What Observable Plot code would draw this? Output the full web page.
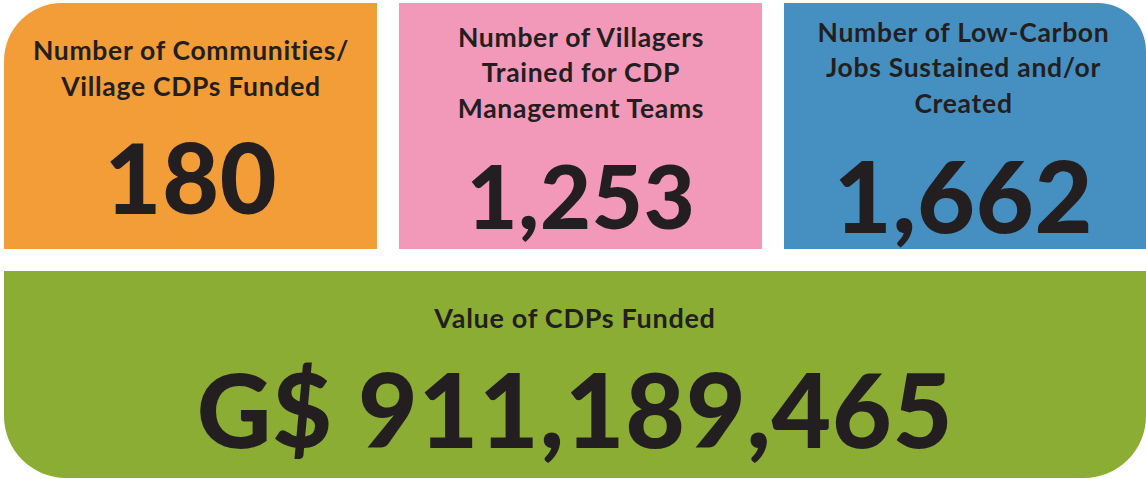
<!DOCTYPE html>
<html>
<head>
<meta charset="utf-8">
<script src="https://cdn.jsdelivr.net/npm/d3@7"></script>
<script src="https://cdn.jsdelivr.net/npm/@observablehq/plot@0.6"></script>
<style>
  html, body { margin: 0; padding: 0; background: #ffffff; }
  #chart svg { display: block; }
</style>
</head>
<body>
<div id="chart"></div>
<script>
// ---- data ----
const tileTitles = [
  "Number of Communities/\nVillage CDPs Funded",
  "Number of Villagers\nTrained for CDP\nManagement Teams",
  "Number of Low-Carbon\nJobs Sustained and/or\nCreated",
  "Value of CDPs Funded"
];
const tileValues = [180, 1253, 1662, 911189465];
const valuePrefixes = ["", "", "", "G$ "];
const tileColors = ["#F29D37", "#F298B9", "#4690C1", "#8CAD33"];

// ---- layout (grid cells, not data) ----
const layout = [
  {c1: 0, c2: 1, row: 0, round: ["tl"], r: 58, titleDy: 103, titleSize: 26.5, valueDy: 221, valueSize: 98, dx: 0},
  {c1: 1, c2: 2, row: 0, round: [],     r: 0,  titleDy: 125, titleSize: 26.5, valueDy: 236, valueSize: 88, dx: 0},
  {c1: 2, c2: 3, row: 0, round: ["tr"], r: 48, titleDy: 120, titleSize: 26.5, valueDy: 240, valueSize: 100, dx: -2},
  {c1: 0, c2: 3, row: 1, round: ["bl", "br"], r: 62, titleDy: 67, titleSize: 27, valueDy: 187, valueSize: 103, dx: -6}
];

const tiles = tileTitles.map((t, i) => ({
  title: t,
  value: tileValues[i],
  label: valuePrefixes[i] + d3.format(",")(tileValues[i]),
  color: tileColors[i],
  ...layout[i]
}));

const INSET = 11;
const ink = "#231F20";
const font = "Lato, 'Open Sans', sans-serif";

function tileMarks(d) {
  const marks = [];
  const xm = (d.c1 + d.c2) / 2, ym = d.row + 0.5;
  marks.push(Plot.rect([d], {
    x1: "c1", x2: "c2", y1: "row", y2: e => e.row + 1,
    fill: d.color, inset: INSET, rx: d.r, ry: d.r
  }));
  for (const corner of ["tl", "tr", "bl", "br"]) {
    if (d.round.includes(corner)) continue;
    const top = corner[0] === "t", left = corner[1] === "l";
    marks.push(Plot.rect([d], {
      x1: e => left ? e.c1 : xm,
      x2: e => left ? xm : e.c2,
      y1: e => top ? e.row : ym,
      y2: e => top ? ym : e.row + 1,
      fill: d.color,
      insetLeft: left ? INSET : 0,
      insetRight: left ? 0 : INSET,
      insetTop: top ? INSET : 0,
      insetBottom: top ? 0 : INSET
    }));
  }
  marks.push(Plot.text([d], {
    x: e => (e.c1 + e.c2) / 2, y: "row", text: "title",
    dy: d.titleDy, dx: d.dx, lineAnchor: "bottom", lineHeight: 1.33,
    fontSize: d.titleSize, fontWeight: 700, fontFamily: font, fill: ink
  }));
  marks.push(Plot.text([d], {
    x: e => (e.c1 + e.c2) / 2, y: "row", text: "label",
    dy: d.valueDy, dx: d.dx, lineAnchor: "bottom",
    fontSize: d.valueSize, fontWeight: 900, fontFamily: font, fill: ink
  }));
  return marks;
}

const chart = Plot.plot({
  width: 1146,
  height: 479,
  margin: 0,
  x: {type: "linear", domain: [0, 1, 2, 3], range: [-7, 388, 773, 1157], axis: null},
  y: {type: "linear", domain: [0, 1, 2], range: [-8, 260, 489], axis: null},
  style: {background: "#ffffff", overflow: "visible"},
  marks: tiles.flatMap(tileMarks)
});
// widen the title lettering a little, like the original's geometric face
d3.select(chart).selectAll("g[font-weight='700'] text").style("letter-spacing", "0.7px");
d3.select(chart).selectAll("g[font-weight='900'] text").style("letter-spacing", "0.8px");
document.getElementById("chart").appendChild(chart);
</script>
</body>
</html>
